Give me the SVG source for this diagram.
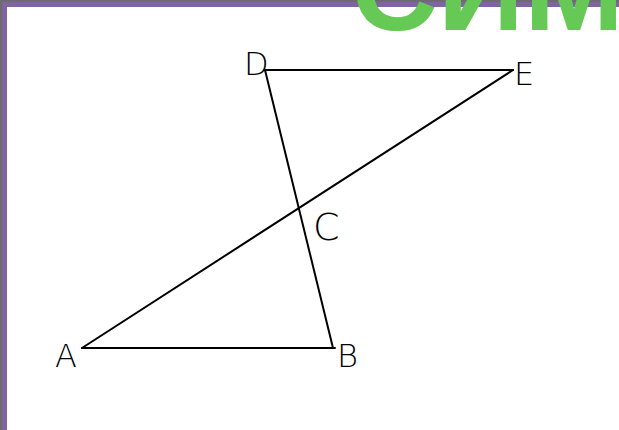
<svg xmlns="http://www.w3.org/2000/svg" width="619" height="430" viewBox="0 0 619 430">
<style>
.seg{stroke:#000;stroke-width:2;fill:none;stroke-linecap:round}
.lbl{font-family:"DejaVu Sans","Liberation Sans",sans-serif;font-weight:200;font-size:32px;fill:#000}
.title{font-family:"Liberation Sans",Arial,sans-serif;font-weight:bold;font-size:120px;fill:#66C955}
</style>
<rect x="0" y="0" width="619" height="430" fill="#6e6a70"/>
<rect x="2" y="2" width="617" height="428" fill="#8064A2"/>
<rect x="7" y="7" width="612" height="423" fill="#ffffff"/>
<text class="title" x="351" y="30">СИМ</text>
<g id="connectors">
<line class="seg" x1="265" y1="70" x2="513" y2="70"/>
<line class="seg" x1="265" y1="70" x2="333" y2="348"/>
<line class="seg" x1="82" y1="348" x2="513" y2="70"/>
<line class="seg" x1="82" y1="348" x2="335" y2="348"/>
</g>
<g id="D"><text class="lbl" x="244" y="75">D</text></g>
<g id="E"><text class="lbl" x="514" y="85">E</text></g>
<g id="C"><text class="lbl" x="313" y="240" style="font-size:38px">C</text></g>
<g id="A"><text class="lbl" x="55" y="367">A</text></g>
<g id="B"><text class="lbl" x="337" y="367">B</text></g>
</svg>
